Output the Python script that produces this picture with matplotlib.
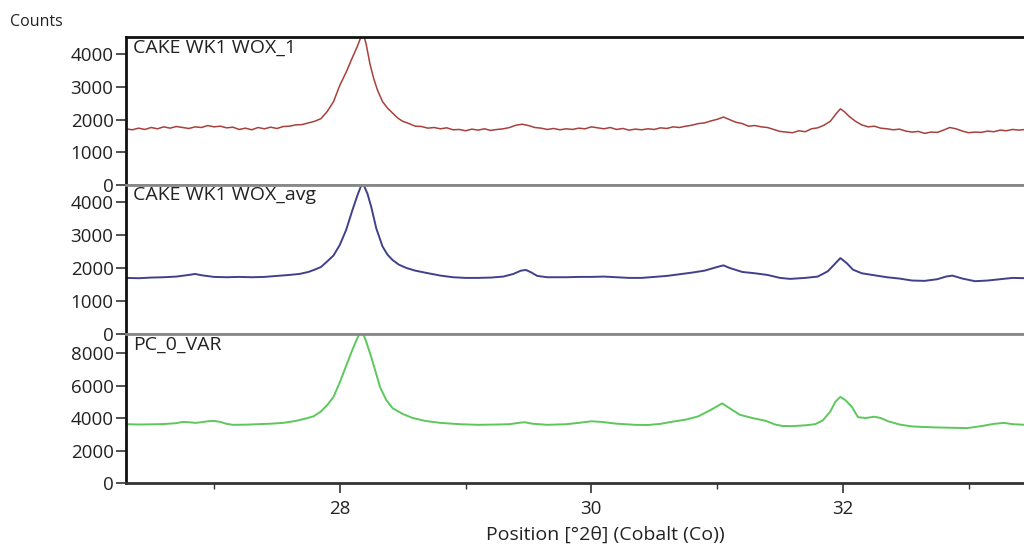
import matplotlib
matplotlib.use("Agg")
import matplotlib.pyplot as plt
from matplotlib.ticker import MultipleLocator

plt.rcParams['font.family'] = ['Open Sans', 'DejaVu Sans']

# ---------------- data ----------------
x_red = [26.30, 26.35, 26.40, 26.45, 26.50, 26.55, 26.60, 26.65, 26.70, 26.75, 26.80, 26.85, 26.90, 26.95,
         27.00, 27.05, 27.10, 27.15, 27.20, 27.25, 27.30, 27.35, 27.40, 27.45, 27.50, 27.55, 27.60, 27.65,
         27.70, 27.75, 27.80, 27.85, 27.90, 27.95, 28.00, 28.05, 28.10, 28.14, 28.17, 28.19, 28.21, 28.24,
         28.27, 28.30, 28.34, 28.38, 28.42, 28.46, 28.50, 28.55, 28.60, 28.65, 28.70, 28.75, 28.80, 28.85,
         28.90, 28.95, 29.00, 29.05, 29.10, 29.15, 29.20, 29.25, 29.30, 29.35, 29.40, 29.45, 29.50, 29.55,
         29.60, 29.65, 29.70, 29.75, 29.80, 29.85, 29.90, 29.95, 30.00, 30.05, 30.10, 30.15, 30.20, 30.25,
         30.30, 30.35, 30.40, 30.45, 30.50, 30.55, 30.60, 30.65, 30.70, 30.75, 30.80, 30.85, 30.90, 30.95,
         31.00, 31.05, 31.10, 31.15, 31.20, 31.25, 31.30, 31.35, 31.40, 31.45, 31.50, 31.55, 31.60, 31.65,
         31.70, 31.75, 31.80, 31.85, 31.90, 31.95, 31.98, 32.01, 32.05, 32.10, 32.15, 32.20, 32.25, 32.30,
         32.35, 32.40, 32.45, 32.50, 32.55, 32.60, 32.65, 32.70, 32.75, 32.80, 32.85, 32.90, 32.95, 33.00,
         33.05, 33.10, 33.15, 33.20, 33.25, 33.30, 33.35, 33.40, 33.45]
y_red = [1720, 1690, 1740, 1700, 1760, 1720, 1780, 1740, 1790, 1760, 1730, 1780, 1760, 1820,
         1780, 1800, 1750, 1770, 1700, 1740, 1690, 1760, 1720, 1770, 1730, 1790, 1800, 1840,
         1850, 1900, 1950, 2030, 2250, 2550, 3050, 3450, 3900, 4250, 4550, 4600, 4300, 3700,
         3250, 2900, 2550, 2350, 2200, 2050, 1950, 1880, 1800, 1790, 1740, 1760, 1720, 1750,
         1690, 1700, 1660, 1710, 1680, 1720, 1670, 1700, 1720, 1760, 1830, 1860, 1820, 1760,
         1740, 1700, 1730, 1690, 1720, 1700, 1740, 1720, 1780, 1750, 1720, 1760, 1700, 1730,
         1680, 1710, 1690, 1720, 1700, 1750, 1730, 1780, 1760, 1800, 1830, 1880, 1900, 1960,
         2010, 2080, 2000, 1920, 1880, 1800, 1820, 1780, 1760, 1700, 1640, 1620, 1600, 1660,
         1630, 1720, 1750, 1830, 1950, 2200, 2330, 2250, 2100, 1950, 1840, 1780, 1800, 1740,
         1720, 1690, 1710, 1650, 1620, 1640, 1580, 1620, 1610, 1680, 1760, 1720, 1650, 1600,
         1620, 1610, 1650, 1630, 1680, 1660, 1700, 1680, 1700]

x_blue = [26.30, 26.40, 26.50, 26.60, 26.70, 26.80, 26.85, 26.90, 27.00, 27.10, 27.20, 27.30, 27.40, 27.50,
          27.60, 27.68, 27.75, 27.80, 27.85, 27.90, 27.95, 28.00, 28.05, 28.10, 28.14, 28.18, 28.22, 28.25,
          28.29, 28.34, 28.38, 28.42, 28.47, 28.53, 28.60, 28.69, 28.80, 28.90, 29.00, 29.10, 29.20, 29.30,
          29.38, 29.44, 29.48, 29.52, 29.57, 29.65, 29.80, 29.90, 30.00, 30.10, 30.20, 30.30, 30.40, 30.50,
          30.60, 30.70, 30.80, 30.90, 31.00, 31.05, 31.10, 31.20, 31.30, 31.40, 31.50, 31.58, 31.70, 31.80,
          31.88, 31.93, 31.98, 32.03, 32.08, 32.15, 32.25, 32.35, 32.45, 32.55, 32.65, 32.75, 32.82, 32.87,
          32.95, 33.05, 33.15, 33.25, 33.35, 33.45]
y_blue = [1700, 1690, 1710, 1720, 1740, 1790, 1820, 1780, 1730, 1720, 1730, 1720, 1730, 1760,
          1790, 1820, 1880, 1950, 2030, 2200, 2380, 2700, 3150, 3750, 4200, 4600, 4250, 3850,
          3200, 2650, 2400, 2240, 2100, 2000, 1920, 1850, 1770, 1720, 1700, 1700, 1710, 1740,
          1820, 1920, 1940, 1870, 1760, 1720, 1720, 1730, 1730, 1740, 1720, 1700, 1700, 1730,
          1760, 1810, 1860, 1920, 2030, 2080, 2000, 1880, 1840, 1790, 1700, 1670, 1700, 1740,
          1900, 2100, 2300, 2150, 1950, 1840, 1780, 1720, 1680, 1620, 1610, 1660, 1740, 1770,
          1680, 1600, 1620, 1660, 1700, 1690]

x_green = [26.30, 26.40, 26.50, 26.60, 26.70, 26.75, 26.80, 26.85, 26.90, 26.95, 27.00, 27.05, 27.10, 27.15,
           27.25, 27.35, 27.45, 27.55, 27.65, 27.72, 27.79, 27.85, 27.90, 27.95, 28.00, 28.05, 28.10, 28.15,
           28.18, 28.21, 28.25, 28.29, 28.32, 28.37, 28.42, 28.50, 28.58, 28.68, 28.80, 28.95, 29.10, 29.25,
           29.35, 29.42, 29.47, 29.53, 29.65, 29.80, 29.90, 30.00, 30.08, 30.20, 30.35, 30.45, 30.55, 30.65,
           30.75, 30.85, 30.95, 31.04, 31.10, 31.18, 31.28, 31.39, 31.46, 31.52, 31.60, 31.70, 31.78, 31.84,
           31.90, 31.94, 31.98, 32.02, 32.07, 32.12, 32.18, 32.25, 32.30, 32.36, 32.45, 32.55, 32.70, 32.85,
           32.99, 33.10, 33.20, 33.28, 33.35, 33.45]
y_green = [3620, 3600, 3610, 3630, 3680, 3760, 3740, 3700, 3740, 3800, 3820, 3760, 3640, 3580,
           3590, 3620, 3650, 3700, 3820, 3950, 4100, 4400, 4800, 5300, 6200, 7200, 8200, 9100,
           9300, 8700, 7750, 6700, 5900, 5100, 4600, 4250, 4000, 3820, 3700, 3620, 3580, 3600,
           3620, 3700, 3740, 3650, 3580, 3620, 3700, 3800, 3760, 3650, 3580, 3570, 3640, 3780,
           3900, 4100, 4500, 4900, 4600, 4200, 4000, 3820, 3600, 3510, 3500, 3550, 3620, 3850,
           4400, 5000, 5300, 5100, 4700, 4050, 4000, 4080, 4000, 3800, 3600, 3480, 3430, 3400,
           3380, 3500, 3640, 3700, 3620, 3580]

panel_names = ["CAKE WK1 WOX_1", "CAKE WK1 WOX_avg", "PC_0_VAR"]
panel_ymax = [4530, 4515, 9170]
panel_yticks = [[0, 1000, 2000, 3000, 4000], [0, 1000, 2000, 3000, 4000], [0, 2000, 4000, 6000, 8000]]
x_ticks = [28, 30, 32]
line_colors = ["#a8403c", "#40408c", "#5cc85c"]

# ---------------- figure ----------------
W, H = 1024, 545
fig = plt.figure(figsize=(W / 100, H / 100), dpi=100)
fig.patch.set_facecolor('white')

left = 126 / W
right = 1.0
bounds_px = [(37, 185), (185, 334), (334, 483)]
axes = []
for top_px, bot_px in bounds_px:
    ax = fig.add_axes([left, 1 - bot_px / H, right - left, (bot_px - top_px) / H])
    axes.append(ax)

series = [(x_red, y_red), (x_blue, y_blue), (x_green, y_green)]
for i, ax in enumerate(axes):
    xs, ys = series[i]
    ax.plot(xs, ys, color=line_colors[i], lw=1.1 if i == 0 else 1.4, solid_joinstyle='round')
    ax.set_xlim(26.30, 33.44)
    ax.set_ylim(0, panel_ymax[i])
    ax.set_yticks(panel_yticks[i])
    ax.set_yticklabels([str(v) for v in panel_yticks[i]])
    ax.tick_params(axis='y', direction='out', length=7, width=1.2, color='#333333',
                   labelsize=13.5, labelcolor='#222222', pad=2)
    ax.text(0.008, 0.99, panel_names[i], transform=ax.transAxes, ha='left', va='top',
            fontsize=14, color='#222222')
    ax.spines['right'].set_visible(False)
    ax.spines['left'].set_linewidth(2.0)
    ax.spines['left'].set_color('#111111')
    ax.spines['top'].set_linewidth(2.0)
    ax.spines['top'].set_color('#111111' if i == 0 else '#888888')
    ax.spines['bottom'].set_linewidth(2.0)
    ax.spines['bottom'].set_color('#888888' if i < 2 else '#333333')
    ax.xaxis.set_major_locator(MultipleLocator(2))
    ax.xaxis.set_minor_locator(MultipleLocator(1))
    if i < 2:
        ax.tick_params(axis='x', which='both', bottom=False, labelbottom=False)
    else:
        ax.set_xticks(x_ticks)
        ax.set_xticklabels([str(v) for v in x_ticks])
        ax.tick_params(axis='x', which='major', direction='out', length=7, width=1.2,
                       color='#333333', labelsize=13.5, labelcolor='#222222', pad=5)
        ax.tick_params(axis='x', which='minor', direction='out', length=4, width=1.0,
                       color='#333333')
    ax.set_facecolor('white')

fig.text(10 / W, 1 - 22 / H, "Counts", ha='left', va='center', fontsize=11.5, color='#222222')
fig.text(605 / W, 1 - 535 / H, "Position [°2θ] (Cobalt (Co))", ha='center', va='center',
         fontsize=14, color='#222222')

fig.savefig("out.png", dpi=100, facecolor='white')
